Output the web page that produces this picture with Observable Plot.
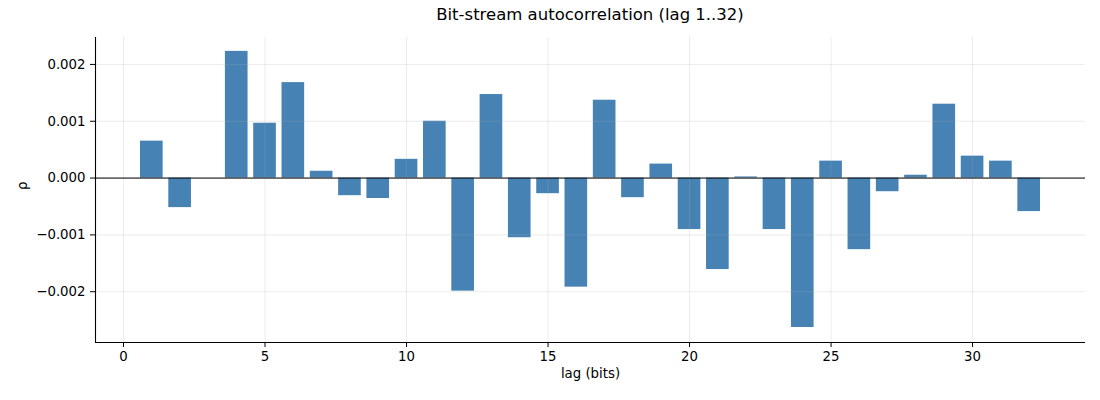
<!DOCTYPE html>
<html>
<head>
<meta charset="utf-8">
<script src="https://cdn.jsdelivr.net/npm/d3@7"></script>
<script src="https://cdn.jsdelivr.net/npm/@observablehq/plot@0.6"></script>
<style>
  body { margin: 0; background: #fff; font-family: "DejaVu Sans", sans-serif; }
  #title { height: 30px; line-height: 30px; text-align: center; font-size: 16.5px; color: #000; margin-left: 80px; }
  svg { display: block; }
  #chart svg, #chart svg g, #chart svg text { font-family: "DejaVu Sans", sans-serif !important; font-size: 13.3px !important; }
</style>
</head>
<body>
<div id="title">Bit-stream autocorrelation (lag 1..32)</div>
<div id="chart"></div>
<script>
const lags = [1,2,3,4,5,6,7,8,9,10,11,12,13,14,15,16,17,18,19,20,21,22,23,24,25,26,27,28,29,30,31,32];
const rho = [0.00065, -0.00052, 0.0, 0.00223, 0.000965, 0.00168, 0.00012, -0.00031, -0.00036, 0.00033, 0.00100,
  -0.00199, 0.00147, -0.00105, -0.000275, -0.00192, 0.00137, -0.000345, 0.000246, -0.000906, -0.00161, 0.00002,
  -0.000906, -0.00263, 0.000298, -0.00126, -0.00024, 0.00005, 0.0013, 0.000386, 0.000298, -0.00059];
const xTicks = [0, 5, 10, 15, 20, 25, 30];
const yTicks = [-0.002, -0.001, 0, 0.001, 0.002];

const data = lags.map((l, i) => ({lag: l, v: rho[i]}));
const xDom = [-0.99, 33.99];
const yDom = [-0.002894, 0.002474];

const chart = Plot.plot({
  width: 1100,
  height: 370,
  marginTop: 7,
  marginBottom: 58,
  marginLeft: 95,
  marginRight: 15,
  style: {fontFamily: "DejaVu Sans, sans-serif", fontSize: "13.3px", color: "#000", background: "#fff"},
  x: {domain: xDom, label: null},
  y: {domain: yDom, label: null},
  marks: [
    Plot.rectY(data, {x1: d => d.lag - 0.4, x2: d => d.lag + 0.4, y: "v", fill: "#4682b4"}),
    Plot.gridX(xTicks, {stroke: "#b0b0b0", strokeOpacity: 0.3, strokeWidth: 0.8}),
    Plot.gridY(yTicks, {stroke: "#b0b0b0", strokeOpacity: 0.3, strokeWidth: 0.8}),
    Plot.ruleY([0], {stroke: "#000", strokeWidth: 1}),
    Plot.ruleX([xDom[0]], {stroke: "#000", strokeWidth: 1.1}),
    Plot.ruleY([yDom[0]], {stroke: "#000", strokeWidth: 1.1}),
    Plot.axisX(xTicks, {tickSize: 5, tickPadding: 4, tickFormat: d => String(d), stroke: "#000", fill: "#000"}),
    Plot.axisY(yTicks, {tickSize: 5, tickPadding: 5, tickFormat: d3.format(".3f"), stroke: "#000", fill: "#000"}),
    Plot.text(["lag (bits)"], {frameAnchor: "bottom", dy: 35, fill: "#000", textAnchor: "middle"}),
    Plot.text(["ρ"], {frameAnchor: "left", dx: -73, rotate: -90, fill: "#000"})
  ]
});
document.getElementById("chart").appendChild(chart);
</script>
</body>
</html>
